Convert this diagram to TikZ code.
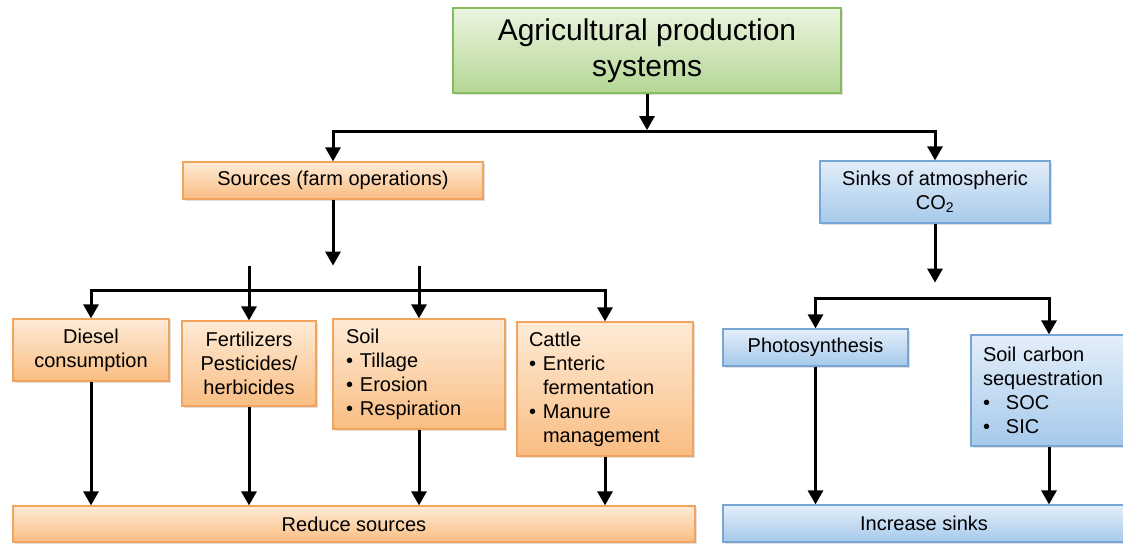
\documentclass[tikz,border=0pt]{standalone}
\usepackage{fontspec}
\setmainfont{Liberation Sans}
\usetikzlibrary{arrows.meta}
\usetikzlibrary{positioning}
\usetikzlibrary{shadows}

\definecolor{headtop}{HTML}{EBF4E0}
\definecolor{headbot}{HTML}{B4D694}
\definecolor{headline}{HTML}{86BB5E}
\definecolor{srctop}{HTML}{FEEBD6}
\definecolor{srcbot}{HTML}{F9BD82}
\definecolor{srcline}{HTML}{F2A45E}
\definecolor{sinktop}{HTML}{E3EEF9}
\definecolor{sinkbot}{HTML}{A6C9EB}
\definecolor{sinkline}{HTML}{76A5D6}

% bullet with a fixed width, so that the item text lines up
\newcommand{\bul}[1][14pt]{\makebox[#1][l]{•}}

\tikzset {
  box/.style = {
    rectangle,
    line width = 1.2pt,
    inner ysep = 0pt,
    align = center,
    font = \fontsize{20}{24}\selectfont,
    drop shadow = {shadow xshift=2pt, shadow yshift=-2pt, opacity=0.25}
  },
  % title box
  head/.style = {
    box,
    draw = headline,
    top color = headtop,
    bottom color = headbot,
    font = \fontsize{30}{36}\selectfont
  },
  % farm operations (sources)
  src/.style = {
    box,
    draw = srcline,
    top color = srctop,
    bottom color = srcbot
  },
  % sinks of CO2
  sink/.style = {
    box,
    draw = sinkline,
    top color = sinktop,
    bottom color = sinkbot
  },
  % box with a list in it
  list/.style = {
    align = left,
    inner xsep = #1
  },
  node distance = 0.5cm
}
\tikzset {
  link/.style = {
    draw = black,
    line width = 3pt
  },
  % path with an arrow at its end
  arr/.style = {
    link,
    -{Triangle[width=15pt,length=14pt]}
  }
}

\begin{document}
\begin{tikzpicture}[x=1pt,y=1pt]
    \useasboundingbox (0,0) rectangle (1123,546);

    \node[head, minimum width=388pt, minimum height=85pt] (title) at (647,495.5)
      {Agricultural production\\systems};
    \coordinate [below=38pt of title.south] (title-split);

    \node[src, minimum width=300pt, minimum height=37pt] (sources) at (333,365.5)
      {Sources (farm operations)};
    \coordinate [below=66pt of sources.south] (sources-tip);
    \coordinate [below=25pt of sources-tip] (sources-row);

    \node[sink, minimum width=230pt, minimum height=62pt] (sinks) at (935,354)
      {Sinks of atmospheric\\CO\textsubscript{2}};
    \coordinate [below=59pt of sinks.south] (sinks-tip);
    \coordinate [below=16pt of sinks-tip] (sinks-row);

    \node[src, minimum width=156pt, minimum height=62pt] (diesel) at (91,196)
      {Diesel\\consumption};
    \node[src, minimum width=134pt, minimum height=85pt] (fert) at (249,182.5)
      {Fertilizers\\Pesticides/\\herbicides};
    \node[src, list=13pt, text width=146pt, minimum height=110pt] (soil) at (419,172)
      {Soil\\\bul Tillage\\\bul Erosion\\\bul Respiration};
    \node[src, list=12pt, text width=152pt, minimum height=134pt] (cattle) at (605,157)
      {Cattle\\\bul Enteric\\\hspace*{14pt}fermentation\\\bul Manure\\\hspace*{14pt}management};

    \node[sink, minimum width=185pt, minimum height=37pt] (photo) at (815.5,198.5)
      {Photosynthesis};
    \node[sink, list=12pt, text width=132pt, minimum height=111pt] (soilc) at (1049,155.5)
      {Soil carbon\\sequestration\\\bul[23pt]SOC\\\bul[23pt]SIC};

    \node[src, minimum width=682pt, minimum height=36pt] (reduce) at (354,22)
      {Reduce sources};
    \node[sink, minimum width=402pt, minimum height=37pt] (increase) at (924,22.5)
      {Increase sinks};

    % top split
    \draw[arr, shorten >=1.5pt] (title) -- (title-split);
    \draw[arr] (title-split) -| (sources);
    \draw[arr] (title-split) -| (sinks);

    % sources side
    \draw[arr] (sources) -- (sources-tip);
    \draw[arr] (fert |- sources-row) -| (cattle);
    \draw[arr] (soil |- sources-row) -| (diesel);
    \draw[arr] (fert |- sources-tip) -- (fert);
    \draw[arr] (soil |- sources-tip) -- (soil);
    \foreach \n in {diesel,fert,soil,cattle}
      \draw[arr] (\n) -- (\n |- reduce.north);

    % sinks side
    \draw[arr] (sinks) -- (sinks-tip);
    \draw[arr] (photo |- sinks-row) -| (soilc);
    \draw[arr] (soilc |- sinks-row) -| (photo);
    \foreach \n in {photo,soilc}
      \draw[arr] (\n) -- (\n |- increase.north);
  \end{tikzpicture}
\end{document}
